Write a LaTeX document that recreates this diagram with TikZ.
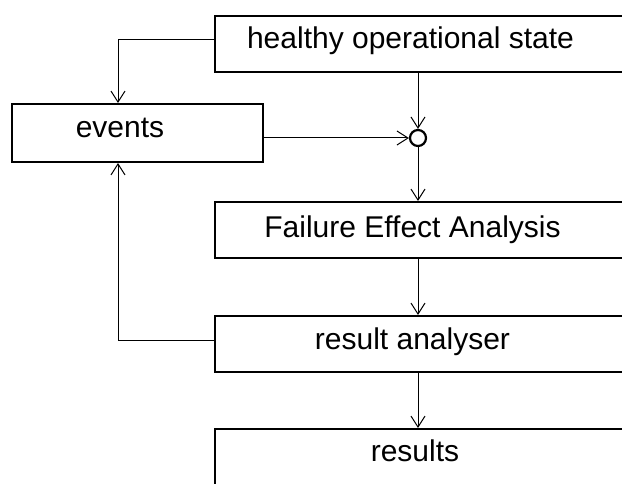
\documentclass[tikz,border=0pt]{standalone}
\usepackage{fontspec}
\setmainfont{Liberation Sans}
\usetikzlibrary{arrows.meta,calc}
\begin{document}
\begin{tikzpicture}[x=1pt,y=-1pt,
  box/.style={draw=black,line width=2pt,inner sep=0pt,rectangle},
  lbl/.style={inner sep=0pt,anchor=base,font=\fontsize{30}{36}\selectfont},
  conn/.style={draw=black,line width=1pt,-{Straight Barb[length=11pt,width=14pt,line width=1pt]}},
  junction/.style={draw=black,line width=2.2pt,circle,inner sep=0pt,minimum size=16pt,fill=white}]
\clip (0,0) rectangle (622,484);
\fill[white] (0,0) rectangle (622,484);
\coordinate (vx) at (418,0);
\coordinate (lx) at (118,0);
\node[box,minimum width=425pt,minimum height=56pt] (healthy) at (427.5,44) {};
\node[box,minimum width=251pt,minimum height=58pt] (events) at (137.5,133) {};
\node[box,minimum width=425pt,minimum height=56pt] (fea) at (427.5,230) {};
\node[box,minimum width=425pt,minimum height=56pt] (ra) at (427.5,344) {};
\node[box,minimum width=425pt,minimum height=71pt] (res) at (427.5,464.5) {};
\node[junction] (jn) at (418,138) {};
\node[lbl] (thealthy) at (410.5,49) {healthy operational state};
\node[lbl] (tevents) at (120,138) {events};
\node[lbl] (tfea) at (412.5,238) {Failure Effect Analysis};
\node[lbl] (tra) at (412.5,349) {result analyser};
\node[lbl] (tres) at (415,461) {results};
\draw[conn] ([yshift=4pt]healthy.west) -| (events.north -| lx);
\draw[conn] (events.east |- jn.west) -- (jn.west);
\draw[conn] (healthy.south -| vx) -- (jn.north);
\draw[conn] (jn.south) -- (fea.north -| vx);
\draw[conn] (fea.south -| vx) -- (ra.north -| vx);
\draw[conn] ([yshift=4pt]ra.west) -| (events.south -| lx);
\draw[conn] (ra.south -| vx) -- (res.north -| vx);
\end{tikzpicture}
\end{document}
